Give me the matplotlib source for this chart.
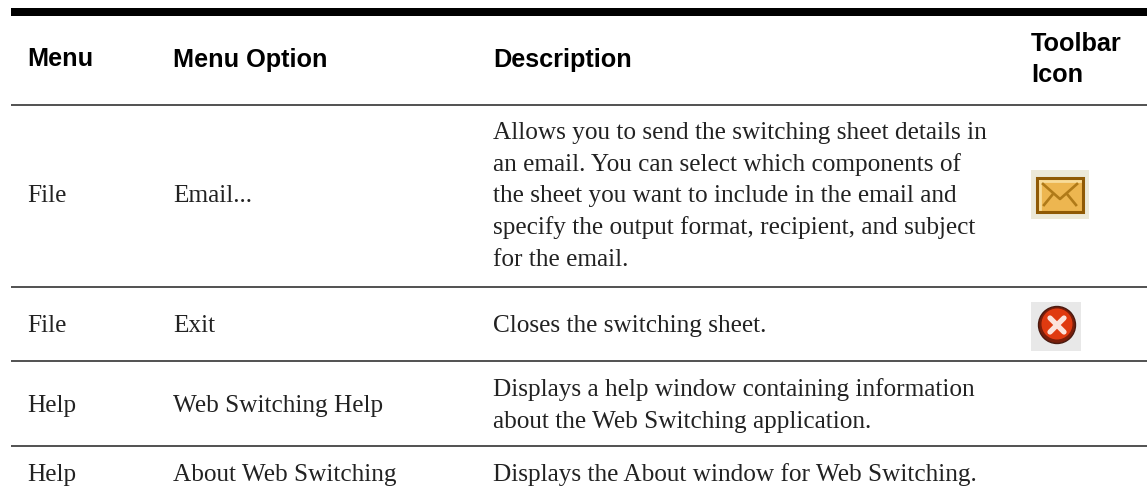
import matplotlib
matplotlib.use("Agg")
import matplotlib.pyplot as plt
from matplotlib.patches import Rectangle, Circle

W, H = 1147, 497
headers = ["Menu", "Menu Option", "Description"]
toolbar_header = ["Toolbar", "Icon"]
menus = ["File", "File", "Help", "Help"]
options = ["Email...", "Exit", "Web Switching Help", "About Web Switching"]
descriptions = [
    ["Allows you to send the switching sheet details in",
     "an email. You can select which components of",
     "the sheet you want to include in the email and",
     "specify the output format, recipient, and subject",
     "for the email."],
    ["Closes the switching sheet."],
    ["Displays a help window containing information",
     "about the Web Switching application."],
    ["Displays the About window for Web Switching."],
]
row_baselines = [202, 332, 412, 481]
desc_first_baselines = [139, 332, 396, 481]
rule_ys = [105, 287, 361, 446]
col_x = [27, 173, 493]
icon_x = 1031

fig = plt.figure(figsize=(W / 100, H / 100), dpi=100, facecolor="white")
ax = fig.add_axes([0, 0, 1, 1])
ax.set_xlim(0, W)
ax.set_ylim(H, 0)
ax.axis("off")

ax.add_patch(Rectangle((11, 8), W - 11, 8, color="black", lw=0))
for y in rule_ys:
    ax.plot([11, W], [y, y], color="#222222", lw=1.1, solid_capstyle="butt")

hfont = dict(family="Liberation Sans", weight="bold", fontsize=18.2, color="black", va="baseline")
for x, t in zip(col_x, headers):
    ax.text(x, 66.5, t, **hfont)
ax.text(icon_x, 51, toolbar_header[0], **hfont)
ax.text(icon_x, 82, toolbar_header[1], **hfont)

bfont = dict(family="Liberation Serif", fontsize=18.2, color="#222222", va="baseline")
line_h = 31.7
for b, db, m, o, d in zip(row_baselines, desc_first_baselines, menus, options, descriptions):
    ax.text(col_x[0], b, m, **bfont)
    ax.text(col_x[1], b, o, **bfont)
    for i, t in enumerate(d):
        ax.text(col_x[2], db + i * line_h, t, **bfont)

# Email icon
ax.add_patch(Rectangle((1031, 170), 58, 49, color="#ECE9D8", lw=0))
ax.add_patch(Rectangle((1037, 178), 46, 34, facecolor="#EDB650", edgecolor="#8F5A05", lw=2.2))
ax.plot([1040, 1080], [181, 181], color="#F8DC9A", lw=2)
ax.plot([1040, 1040], [181, 209], color="#F8DC9A", lw=2)
ax.plot([1043, 1060, 1077], [184, 199, 184], color="#B07A18", lw=1.9)
ax.plot([1044, 1053], [205, 194], color="#B07A18", lw=1.9)
ax.plot([1076, 1067], [205, 194], color="#B07A18", lw=1.9)

# Exit icon
ax.add_patch(Rectangle((1031, 302), 50, 49, color="#E8E8E8", lw=0))
ax.add_patch(Circle((1057, 325), 18.5, facecolor="#7A1E0A", edgecolor="#4A1A10", lw=1))
ax.add_patch(Circle((1057, 324), 15.5, facecolor="#E03A10", lw=0))
ax.plot([1050, 1064], [318, 332], color="#FBE3DC", lw=3.8, solid_capstyle="round")
ax.plot([1050, 1064], [332, 318], color="#FBE3DC", lw=3.8, solid_capstyle="round")

fig.savefig("out.png", dpi=100, facecolor="white")
